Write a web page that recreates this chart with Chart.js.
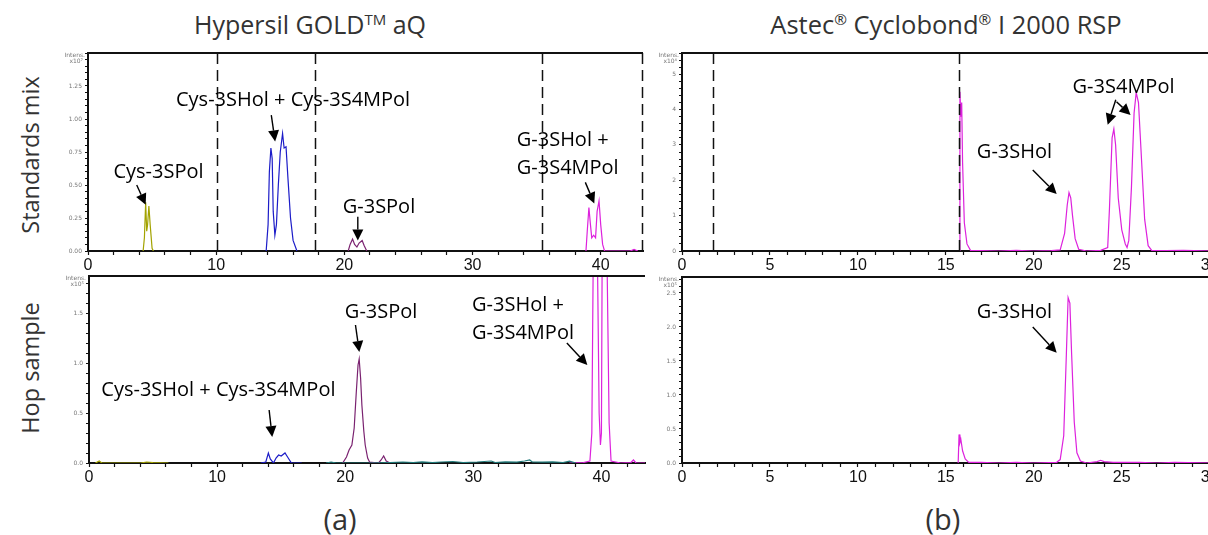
<!DOCTYPE html>
<html>
<head>
<meta charset="utf-8">
<script src="https://cdn.jsdelivr.net/npm/chart.js@4.4.0/dist/chart.umd.min.js"></script>
<style>
  html, body { margin: 0; padding: 0; background: #fff; overflow: hidden; width: 1208px; height: 535px; }
  .box { position: absolute; }
  .txt { position: absolute; font-family: 'Open Sans', sans-serif; color: #333; white-space: nowrap; }
  .rot { transform: translate(-50%, -50%) rotate(-90deg); }
  sup { font-size: 0.6em; }
</style>
</head>
<body>

<div class="txt" style="left:0; width:620px; top:7px; text-align:center; font-size:25px;">Hypersil GOLD<sup>TM</sup> aQ</div>
<div class="txt" style="left:650px; width:592px; top:7px; text-align:center; font-size:25.5px;">Astec<sup>®</sup> Cyclobond<sup>®</sup> I 2000 RSP</div>
<div class="txt rot" style="left:30px; top:155px; font-size:23.5px;">Standards mix</div>
<div class="txt rot" style="left:30px; top:368px; font-size:23.5px;">Hop sample</div>
<div class="txt" style="left:340px; top:518px; transform:translate(-50%,-50%); font-size:29px;">(a)</div>
<div class="txt" style="left:943px; top:518px; transform:translate(-50%,-50%); font-size:29px;">(b)</div>

<div class="box" id="boxTL"><canvas id="cTL"></canvas></div>
<div class="box" id="boxBL"><canvas id="cBL"></canvas></div>
<div class="box" id="boxTR"><canvas id="cTR"></canvas></div>
<div class="box" id="boxBR"><canvas id="cBR"></canvas></div>

<script>
// ---- data: retention time (min) vs intensity ----
// (a) Hypersil GOLD aQ, standards mix (x10^7)
const tlOlive = [[4.3,0],[4.4,0.1],[4.5,0.37],[4.58,0.15],[4.65,0.2],[4.75,0.34],[4.85,0.2],[5.0,0.02],[5.1,0]];
const tlBlue = [[13.9,0],[14.05,0.2],[14.15,0.6],[14.27,0.78],[14.37,0.7],[14.45,0.3],[14.58,0.12],[14.7,0.2],[14.85,0.5],
                [15.0,0.75],[15.18,0.89],[15.3,0.78],[15.45,0.79],[15.6,0.55],[15.8,0.25],[16.0,0.08],[16.3,0]];
const tlPurple = [[20.3,0],[20.45,0.05],[20.64,0.09],[20.8,0.05],[20.98,0.03],[21.15,0.06],[21.39,0.08],[21.55,0.04],[21.75,0]];
const tlMagenta = [[38.85,0],[38.95,0.15],[39.08,0.33],[39.2,0.2],[39.3,0.1],[39.45,0.12],[39.6,0.1],[39.72,0.3],[39.87,0.38],
                   [40.0,0.2],[40.15,0.05],[40.3,0],[42.3,0],[42.6,0.012],[42.9,0]];

// (a) Hypersil GOLD aQ, hop sample (x10^5)
const blOlive = [[0.5,0],[0.8,0.02],[1.0,0],[4.0,0],[4.5,0.01],[5.0,0.005],[6.2,0]];
const blBlue = [[13.4,0],[13.8,0.01],[14.0,0.1],[14.15,0.04],[14.4,0],[14.6,0.05],[14.8,0.08],[15.0,0.07],[15.3,0.1],[15.5,0.06],[15.8,0],[16.6,0]];
const blPurple = [[19.8,0],[20.1,0.06],[20.3,0.13],[20.52,0.18],[20.7,0.35],[20.86,0.7],[21.0,0.98],[21.09,1.04],[21.2,0.85],
                  [21.3,0.58],[21.45,0.32],[21.56,0.18],[21.75,0.05],[21.9,0.01],[22.6,0],[22.8,0.03],[23.0,0.07],[23.2,0.02],[23.5,0]];
const blTeal = [[18.5,0],[18.9,0.01],[19.3,0],[22.0,0],[23.5,0.005],[24.5,0.01],[25.3,0.005],[26.0,0.012],[26.8,0.004],[27.5,0.01],
                [28.4,0.015],[29.2,0.005],[30.3,0.01],[31.4,0.02],[31.7,0.005],[32.5,0.012],[33.4,0.008],[34.0,0.02],[34.4,0.03],
                [34.6,0.01],[35.4,0.008],[36.2,0.012],[37.0,0.005],[37.5,0.018],[38.0,0]];
const blMagenta = [[37.5,0],[38.6,0.005],[39.1,0.02],[39.25,0.3],[39.35,1.9],[39.5,3.5],[39.7,1.9],[39.82,0.5],[39.92,0.18],[40.0,0.3],
                   [40.05,1.9],[40.25,3.5],[40.45,1.9],[40.6,0.4],[40.75,0.02],[41.5,0],[42.3,0.005],[42.5,0.03],[42.7,0],[43.4,0]];

// (b) Astec Cyclobond, standards mix (x10^4)
const trMagenta = [[15.75,0],[15.8,4.5],[15.85,3.8],[15.9,4.2],[15.95,2.5],[16.05,0.8],[16.2,0.2],[16.4,0.02],[17.0,0.01],[18.0,0],
                   [19.0,0.02],[20.0,0],[21.0,0.01],[21.5,0.03],[21.75,0.5],[21.9,1.3],[22.0,1.65],[22.1,1.5],[22.2,1.0],[22.35,0.35],
                   [22.55,0.05],[23.0,0],[23.8,0.02],[24.2,0.1],[24.3,1.2],[24.45,3.2],[24.55,3.45],[24.65,3.0],[24.8,1.5],[25.0,0.6],
                   [25.2,0.2],[25.3,0.1],[25.4,0.3],[25.55,1.8],[25.7,3.9],[25.82,4.48],[25.95,4.2],[26.1,2.8],[26.3,0.9],[26.5,0.15],
                   [26.7,0.02],[27.5,0.01],[28.5,0.02],[30.3,0]];

// (b) Astec Cyclobond, hop sample (x10^5)
const brMagenta = [[15.7,0],[15.75,0.42],[15.8,0.3],[15.85,0.35],[15.95,0.18],[16.1,0.06],[16.3,0.01],[17.0,0.01],[18.0,0],[19.0,0.01],
                   [20.0,0],[21.3,0.01],[21.5,0.05],[21.7,0.4],[21.85,1.6],[21.95,2.43],[22.05,2.35],[22.15,1.6],[22.3,0.6],[22.45,0.15],
                   [22.65,0.03],[23.0,0],[23.6,0.02],[23.8,0.04],[24.0,0.02],[24.5,0.01],[26.0,0.01],[27.0,0],[28.0,0.01],[30.3,0]];

// tick labels and markers
const xMajorLeft = [0, 10, 20, 30, 40];
const xMajorRight = [0, 5, 10, 15, 20, 25, 30];
const tlDashes = [10.1, 17.7, 35.4, 43.2];
const trDashes = [1.75, 15.75];

const tlNotes = [
  { lines: ['Cys-3SPol'], x: 5.5, y: 0.6, align: 'center', arrows: [[3.8, 0.5, 4.5, 0.35]] },
  { lines: ['Cys-3SHol + Cys-3S4MPol'], x: 16.0, y: 1.14, align: 'center', arrows: [[14.3, 1.03, 14.6, 0.83]] },
  { lines: ['G-3SPol'], x: 22.7, y: 0.33, align: 'center', arrows: [[21.05, 0.26, 21.05, 0.08]] },
  { lines: ['G-3SHol +', 'G-3S4MPol'], x: 33.45, y: 0.84, align: 'left', arrows: [[38.8, 0.52, 39.5, 0.36]] }
];
const blNotes = [
  { lines: ['Cys-3SHol + Cys-3S4MPol'], x: 10.1, y: 0.73, align: 'center', arrows: [[14.06, 0.53, 14.3, 0.26]] },
  { lines: ['G-3SPol'], x: 22.8, y: 1.51, align: 'center', arrows: [[20.8, 1.38, 21.1, 1.11]] },
  { lines: ['G-3SHol +', 'G-3S4MPol'], x: 29.9, y: 1.58, align: 'left', arrows: [[37.3, 1.2, 38.9, 0.98]] }
];
const trNotes = [
  { lines: ['G-3S4MPol'], x: 25.1, y: 4.62, align: 'center', arrows: [[24.66, 4.28, 24.2, 3.57], [24.7, 4.22, 25.5, 3.85]] },
  { lines: ['G-3SHol'], x: 18.9, y: 2.78, align: 'center', arrows: [[19.94, 2.29, 21.3, 1.61]] }
];
const brNotes = [
  { lines: ['G-3SHol'], x: 18.9, y: 2.22, align: 'center', arrows: [[19.94, 2.0, 21.3, 1.62]] }
];

const OLIVE = '#a3a300', BLUE = '#1c1cc8', PURPLE = '#7a2270', MAGENTA = '#dd22dd', TEAL = '#217a7a';

// draws frame top, dashed markers, "Intens." label and the arrow notes
const panelDecor = {
  id: 'panelDecor',
  afterDatasetsDraw(chart, args, opts) {
    const ctx = chart.ctx, a = chart.chartArea;
    const xs = chart.scales.x, ys = chart.scales.y;
    ctx.save();
    // top frame line
    ctx.strokeStyle = '#111';
    ctx.lineWidth = 2;
    ctx.beginPath();
    ctx.moveTo(a.left, a.top);
    ctx.lineTo(a.right, a.top);
    ctx.stroke();
    // dashed markers
    ctx.lineWidth = 1.5;
    ctx.setLineDash([11, 6]);
    (opts.dashes || []).forEach(v => {
      const px = Math.round(xs.getPixelForValue(v)) + 0.5;
      ctx.beginPath();
      ctx.moveTo(px, a.top);
      ctx.lineTo(px, a.bottom);
      ctx.stroke();
    });
    ctx.setLineDash([]);
    // intensity label
    ctx.fillStyle = '#777';
    ctx.font = '6px "DejaVu Sans"';
    ctx.textAlign = 'right';
    ctx.textBaseline = 'middle';
    ctx.fillText('Intens.', a.left - 3, a.top + 2);
    ctx.fillText('x10' + opts.exp, a.left - 5, a.top + 8);
    // notes with arrows
    ctx.fillStyle = '#000';
    ctx.strokeStyle = '#000';
    ctx.font = '20px "Open Sans"';
    (opts.notes || []).forEach(n => {
      ctx.textAlign = n.align;
      const px = xs.getPixelForValue(n.x), py = ys.getPixelForValue(n.y);
      n.lines.forEach((t, i) => ctx.fillText(t, px, py + i * 28));
      n.arrows.forEach(ar => {
        const x0 = xs.getPixelForValue(ar[0]), y0 = ys.getPixelForValue(ar[1]);
        const x1 = xs.getPixelForValue(ar[2]), y1 = ys.getPixelForValue(ar[3]);
        const ang = Math.atan2(y1 - y0, x1 - x0);
        const hl = 11, hw = 5.5;
        const bx = x1 - hl * Math.cos(ang), by = y1 - hl * Math.sin(ang);
        ctx.lineWidth = 1.4;
        ctx.beginPath();
        ctx.moveTo(x0, y0);
        ctx.lineTo(bx, by);
        ctx.stroke();
        ctx.beginPath();
        ctx.moveTo(x1, y1);
        ctx.lineTo(bx + hw * Math.sin(ang), by - hw * Math.cos(ang));
        ctx.lineTo(bx - hw * Math.sin(ang), by + hw * Math.cos(ang));
        ctx.closePath();
        ctx.fill();
      });
    });
    ctx.restore();
  }
};

function isMult(v, m) { return Math.abs(v / m - Math.round(v / m)) < 1e-6; }

function makePanel(canvasId, boxId, area, cfg) {
  const box = document.getElementById(boxId);
  box.style.left = (area.L - 32) + 'px';
  box.style.top = (area.T - 10) + 'px';
  box.style.width = (area.R - area.L + 32 + 12) + 'px';
  box.style.height = (area.B - area.T + 10 + 24) + 'px';
  new Chart(document.getElementById(canvasId), {
    type: 'line',
    data: {
      datasets: cfg.series.map(s => ({
        data: s.pts.map(p => ({ x: p[0], y: p[1] })),
        borderColor: s.color,
        borderWidth: 1.2,
        pointRadius: 0,
        tension: 0,
        fill: false
      }))
    },
    options: {
      responsive: true,
      maintainAspectRatio: false,
      animation: false,
      layout: { padding: { top: 10, right: 12, left: 0, bottom: 0 } },
      plugins: {
        legend: { display: false },
        tooltip: { enabled: false },
        panelDecor: { dashes: cfg.dashes, notes: cfg.notes, exp: cfg.exp }
      },
      scales: {
        x: {
          type: 'linear', min: 0, max: cfg.xMax,
          afterFit: s => { s.height = 24; },
          border: { color: '#111', width: 2 },
          grid: { drawOnChartArea: false, color: '#111', tickLength: 4, tickWidth: 1.2 },
          ticks: {
            stepSize: cfg.xStep, includeBounds: false, autoSkip: false, maxRotation: 0, padding: 1,
            color: '#111', font: { family: '"Liberation Sans"', size: 16 },
            callback: v => cfg.xMajor.includes(Math.round(v * 1000) / 1000) ? String(v) : ''
          }
        },
        y: {
          min: 0, max: cfg.yMax,
          afterFit: s => { s.width = 32; },
          border: { color: '#111', width: 2 },
          grid: { drawOnChartArea: false, color: '#111', tickLength: 3, tickWidth: 1 },
          ticks: {
            stepSize: cfg.yStep, includeBounds: false, autoSkip: false, padding: 3,
            color: '#777', font: { family: '"DejaVu Sans"', size: 6 },
            callback: v => (isMult(v, cfg.yMajor) && v < cfg.yMax - 1e-6) ? v.toFixed(cfg.yDec) : ''
          }
        }
      }
    },
    plugins: [panelDecor]
  });
}

makePanel('cTL', 'boxTL', { L: 88, T: 53, R: 643, B: 251 }, {
  series: [{ pts: tlOlive, color: OLIVE }, { pts: tlBlue, color: BLUE }, { pts: tlPurple, color: PURPLE }, { pts: tlMagenta, color: MAGENTA }],
  xMax: 43.3, xStep: 2, xMajor: xMajorLeft, yMax: 1.5, yStep: 0.05, yMajor: 0.25, yDec: 2,
  dashes: tlDashes, notes: tlNotes, exp: '\u2077'
});
makePanel('cBL', 'boxBL', { L: 89, T: 276, R: 645, B: 463 }, {
  series: [{ pts: blOlive, color: OLIVE }, { pts: blBlue, color: BLUE }, { pts: blTeal, color: TEAL }, { pts: blPurple, color: PURPLE }, { pts: blMagenta, color: MAGENTA }],
  xMax: 43.4, xStep: 2, xMajor: xMajorLeft, yMax: 1.87, yStep: 0.1, yMajor: 0.5, yDec: 1,
  dashes: [], notes: blNotes, exp: '\u2075'
});
makePanel('cTR', 'boxTR', { L: 682, T: 53, R: 1215, B: 251 }, {
  series: [{ pts: trMagenta, color: MAGENTA }],
  xMax: 30.3, xStep: 1, xMajor: xMajorRight, yMax: 5.6, yStep: 0.2, yMajor: 1, yDec: 0,
  dashes: trDashes, notes: trNotes, exp: '\u2074'
});
makePanel('cBR', 'boxBR', { L: 682, T: 277, R: 1215, B: 463 }, {
  series: [{ pts: brMagenta, color: MAGENTA }],
  xMax: 30.3, xStep: 1, xMajor: xMajorRight, yMax: 2.735, yStep: 0.1, yMajor: 0.5, yDec: 1,
  dashes: [], notes: brNotes, exp: '\u2075'
});
</script>
</body>
</html>
